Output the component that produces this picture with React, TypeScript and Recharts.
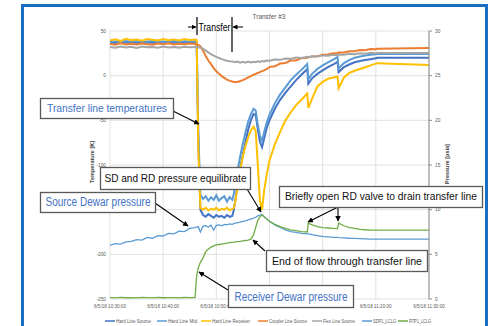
import React from 'react';
import { LineChart, Line, XAxis, YAxis, CartesianGrid } from 'recharts';

// minutes after 10:30:00 on 6/5/18
const times = [0, 1, 2, 3, 4, 5, 6, 7, 8, 9, 10, 11, 12, 13, 14, 15, 16,
  16.3, 16.6,
  17, 17.5, 18, 18.5, 19, 19.5, 20, 20.5, 21, 21.5, 22, 22.5, 23,
  23.3, 23.6,
  24, 24.5, 25, 25.5, 26, 26.5, 27,
  27.4, 27.8, 28.2, 28.6,
  29, 29.5,
  30, 31, 32, 33, 34, 35, 36,
  37.1, 37.3,
  38, 39, 40, 41, 42,
  42.8, 43,
  44, 45, 46, 47, 48, 49, 50,
  50.3, 60];

// Temperatures [K]
const hardLineSource = [37.2, 36.5, 37.8, 36.9, 37.4, 36.6, 37.9, 37.1, 36.8, 37.5, 36.9, 37.6, 37.0, 36.7, 37.3, 36.9, 37.4,
  37.0, -70,
  -150, -156, -158, -155, -157, -159, -156, -158, -157, -159, -156, -158, -157,
  -150, -138,
  -122, -103, -88, -74, -60, -50, -43,
  -44, -60, -74, -80,
  -70, -58,
  -50, -37, -27, -19, -12, -5, 1,
  7.5, -9,
  -3, 2, 6, 9.5, 12.5,
  15.5, 4,
  9.5, 12.5, 15, 16.5, 17.5, 18.5, 19.5,
  20, 20];

const hardLineMid = [37.8, 38.4, 37.5, 38.9, 37.9, 38.6, 37.7, 38.2, 38.8, 37.6, 38.3, 38.0, 38.7, 37.8, 38.4, 38.1, 38.5,
  38, -60,
  -133, -138, -135, -140, -136, -139, -134, -140, -137, -135, -141, -136, -139,
  -132, -120,
  -106, -90, -76, -63, -51, -43, -37,
  -39, -55, -67, -73,
  -63, -52,
  -44, -31, -21, -13, -5, 1, 6.5,
  13, -4,
  2, 7.5, 11.5, 15, 18,
  21, 8,
  14, 17.5, 20, 21.5, 22.5, 23.5, 24,
  24.2, 24.2];

const hardLineReceiver = [39.5, 40.8, 38.9, 41.2, 39.8, 40.5, 39.2, 41.0, 40.1, 39.4, 40.9, 39.7, 40.6, 39.3, 41.1, 40.0, 40.4,
  40, -80,
  -148, -150, -148, -151, -149, -150, -148, -151, -149, -150, -148, -151, -149,
  -148, -140,
  -124, -105, -90, -78, -69, -61, -57,
  -62, -100, -140, -150,
  -128, -110,
  -95, -77, -63, -50, -41, -33, -27,
  -20, -36,
  -26, -12, -7, -3.5, -2,
  -1, -14,
  -2, 3, 5.5, 7.5, 9.5, 11.5, 13.5,
  14, 12];

const couplerLineSource = [35.5, 34.6, 36.2, 35.0, 35.8, 34.9, 36.0, 35.3, 34.7, 35.9, 35.1, 36.3, 34.8, 35.6, 35.2, 35.9, 35.4,
  35.2, 34.5,
  33, 28, 22, 17, 13, 8.5, 5, 2, -0.5, -2.5, -4.5, -5.8, -6.6,
  -7, -7.2,
  -7, -6, -5, -3.5, -2, -0.5, 1,
  2, 3, 4, 5,
  6, 7.5,
  9.6, 10.5, 13.6, 14.2, 16.9, 17.1, 19.6,
  20, 20.6,
  21.4, 21.8, 23.4, 23.6, 25.2,
  25.0, 25.9,
  26.0, 27.4, 27.3, 28.7, 28.5, 29.8, 29.6,
  30.2, 31];

const flexLineSource = [32.0, 31.2, 32.6, 31.5, 32.3, 31.0, 32.5, 31.7, 32.1, 31.3, 32.7, 31.6, 32.2, 31.4, 32.4, 31.8, 32.0,
  32, 31.5,
  31.5, 30, 28, 26, 24, 22.5, 21, 19.8, 18.5, 17.5, 16.8, 16.2, 15.8,
  15.5, 15.3,
  15.8, 14.6, 15.6, 14.5, 15.8, 14.7, 15.6,
  15.0, 16.1, 15.4, 16.4,
  15.9, 17.0,
  16.6, 18.1, 17.7, 19.1, 18.8, 20.3, 19.9,
  21.2, 20.6,
  21.8, 21.4, 22.7, 22.2, 23.4,
  22.9, 23.8,
  23.4, 24.6, 24.1, 25.2, 24.6, 25.6, 25.1,
  25.4, 25.4];

// Pressures [psia]
const sdp1Lclg = [6.0, 6.2, 6.15, 6.4, 6.45, 6.65, 6.6, 6.9, 6.8, 7.1, 7.05, 7.35, 7.3, 7.6, 7.55, 7.9, 8.0,
  8.05, 8.1,
  7.5, 8.15, 8.2, 8.05, 8.25, 7.7, 8.25, 8.3, 8.2, 8.35, 8.3, 8.4, 8.35,
  8.45, 8.5,
  8.55, 8.6, 8.7, 8.75, 8.85, 8.95, 9.05,
  9.15, 9.3, 9.4, 9.45,
  9.2, 8.95,
  8.7, 8.3, 8.0, 7.75, 7.55, 7.45, 7.35,
  7.3, 7.3,
  7.2, 7.1, 7.0, 6.95, 6.9,
  6.9, 6.88,
  6.85, 6.8, 6.78, 6.75, 6.72, 6.7, 6.7,
  6.7, 6.7];

const rtp1Lclg = [0.15, 0.12, 0.18, 0.14, 0.16, 0.12, 0.17, 0.15, 0.13, 0.18, 0.14, 0.16, 0.15, 0.12, 0.17, 0.15, 0.16,
  2.6, 3.5,
  4.1, 4.6, 5.3, 5.6, 5.8, 5.95, 6.05, 6.1, 6.15, 6.2, 6.25, 6.3, 6.35,
  6.37, 6.4,
  6.42, 6.45, 6.5, 6.55, 6.6, 6.7, 7.2,
  8.0, 8.8, 9.2, 9.4,
  9.2, 8.95,
  8.7, 8.35, 8.1, 7.9, 7.75, 7.65, 7.55,
  7.5, 8.5,
  8.3, 8.1, 8.0, 7.95, 7.9,
  7.85, 8.5,
  8.2, 8.0, 7.9, 7.8, 7.75, 7.72, 7.7,
  7.7, 7.7];

const seriesNames = ['Hard Line Source', 'Hard Line Mid', 'Hard Line Receiver', 'Coupler Line Source', 'Flex Line Source', 'SDP1_LCLG', 'RTP1_LCLG'];
const seriesKeys = ['hls', 'hlm', 'hlr', 'cls', 'fls', 'sdp', 'rtp'];
const seriesColors = ['#4472C4', '#5B9BD5', '#FFC000', '#ED7D31', '#A5A5A5', '#5B9BD5', '#70AD47'];
const seriesAxis = ['T', 'T', 'T', 'T', 'T', 'P', 'P'];

const xTicks = [0, 10, 20, 30, 40, 50, 60];
const tempTicks = [-250, -200, -150, -100, -50, 0, 50];
const pressTicks = [0, 5, 10, 15, 20, 25, 30];

const chartTitle = 'Transfer #3';
const leftTitle = 'Temperature [K]';
const rightTitle = 'Pressure [psia]';

const rows = times.map((t, i) => ({
  t,
  hls: hardLineSource[i],
  hlm: hardLineMid[i],
  hlr: hardLineReceiver[i],
  cls: couplerLineSource[i],
  fls: flexLineSource[i],
  sdp: sdp1Lclg[i],
  rtp: rtp1Lclg[i],
}));

function fmtTime(m: number): string {
  const total = 10 * 60 + 30 + m;
  const h = Math.floor(total / 60);
  const mm = Math.round(total % 60);
  return `6/5/18 ${h}:${String(mm).padStart(2, '0')}:00`;
}

const FONT = '"Liberation Sans", Arial, sans-serif';

type Box = { x: number; y: number; w: number; h: number; text: string; color: string; tl: number; fs: number };
const boxes: Box[] = [
  { x: 40, y: 98, w: 133, h: 20, text: 'Transfer line temperatures', color: '#4472C4', tl: 120, fs: 11.5 },
  { x: 100, y: 167, w: 150, h: 22, text: 'SD and RD pressure equilibrate', color: '#111', tl: 142, fs: 11.5 },
  { x: 40, y: 192, w: 115, h: 20, text: 'Source Dewar pressure', color: '#4472C4', tl: 105, fs: 12 },
  { x: 279, y: 186, w: 203, h: 21, text: 'Briefly open RD valve to drain transfer line', color: '#111', tl: 192, fs: 10.4 },
  { x: 266, y: 250, w: 161, h: 21, text: 'End of flow through transfer line', color: '#111', tl: 150, fs: 11.5 },
  { x: 228, y: 285, w: 125, h: 22, text: 'Receiver Dewar pressure', color: '#4472C4', tl: 113, fs: 12.5 },
];

const arrows = [
  [173, 111, 199, 124],
  [247, 189, 261, 212],
  [155, 203, 188, 226],
  [338, 207, 308, 222],
  [338, 207, 338, 221],
  [265, 251, 253, 240],
  [228, 290, 199, 272],
];

const legendLayout = [
  { x: 105, tl: 35 },
  { x: 157, tl: 29 },
  { x: 201, tl: 38 },
  { x: 258, tl: 38 },
  { x: 312, tl: 32 },
  { x: 362, tl: 23 },
  { x: 398, tl: 22 },
];

export default function App() {
  return (
    <div style={{ position: 'absolute', left: 0, top: 0, width: 495, height: 326, background: '#fff', overflow: 'hidden', fontFamily: FONT }}>
      <div style={{ position: 'absolute', left: 21, top: 4, width: 467, height: 360, border: '3px solid #1B6EC2', boxSizing: 'border-box' }} />
      <div style={{ position: 'absolute', left: 0, top: 0 }}>
        <LineChart width={495} height={326} data={rows} margin={{ top: 31, right: 36, bottom: 7, left: 80 }}>
          <CartesianGrid yAxisId="T" stroke="#D9D9D9" strokeWidth={0.8} />
          <XAxis
            type="number"
            dataKey="t"
            domain={[0, 60]}
            ticks={xTicks}
            interval={0}
            tickFormatter={fmtTime}
            axisLine={false}
            tickLine={false}
            tickSize={0}
            tickMargin={6}
            height={20}
            tick={{ fontSize: 4.6, fill: '#595959', fontFamily: FONT }}
          />
          <YAxis
            yAxisId="T"
            domain={[-250, 50]}
            ticks={tempTicks}
            interval={0}
            axisLine={false}
            tickLine={false}
            tickSize={0}
            tickMargin={4}
            width={30}
            tick={{ fontSize: 4.8, fill: '#595959', fontFamily: FONT }}
          />
          <YAxis
            yAxisId="P"
            orientation="right"
            domain={[0, 30]}
            ticks={pressTicks}
            interval={0}
            axisLine={{ stroke: '#8C8C8C', strokeWidth: 1 }}
            tickLine={{ stroke: '#8C8C8C' }}
            tickSize={3}
            tickMargin={3}
            width={30}
            tick={{ fontSize: 4.8, fill: '#595959', fontFamily: FONT }}
          />
          {seriesKeys.map((k, i) => (
            <Line
              key={k}
              yAxisId={seriesAxis[i]}
              type="linear"
              dataKey={k}
              name={seriesNames[i]}
              stroke={seriesColors[i]}
              strokeWidth={seriesAxis[i] === 'T' ? 2 : 1.3}
              dot={false}
              isAnimationActive={false}
            />
          ))}
        </LineChart>
      </div>
      <svg width={495} height={326} style={{ position: 'absolute', left: 0, top: 0, pointerEvents: 'none' }}>
        <defs>
          <marker id="ah" viewBox="0 0 10 10" refX="9" refY="5" markerWidth="5" markerHeight="5" orient="auto">
            <path d="M0,0 L10,5 L0,10 z" fill="#000" />
          </marker>
        </defs>
        <text x={269} y={19} fontSize={7} fill="#595959" textAnchor="middle" textLength={33} lengthAdjust="spacingAndGlyphs">{chartTitle}</text>
        <text transform="translate(94,162) rotate(-90)" fontSize={5.5} fontWeight="bold" fill="#404040" textAnchor="middle">{leftTitle}</text>
        <text transform="translate(449,164) rotate(-90)" fontSize={5.5} fontWeight="bold" fill="#404040" textAnchor="middle">{rightTitle}</text>

        {/* Transfer bracket */}
        <line x1={197} y1={17} x2={197} y2={35} stroke="#000" strokeWidth={1.2} />
        <line x1={232} y1={17} x2={232} y2={52} stroke="#000" strokeWidth={1.2} />
        <line x1={188} y1={27} x2={196} y2={27} stroke="#000" strokeWidth={1} markerEnd="url(#ah)" />
        <line x1={243} y1={27} x2={233} y2={27} stroke="#000" strokeWidth={1} markerEnd="url(#ah)" />
        <text x={214.5} y={30.5} fontSize={10.5} fill="#000" textAnchor="middle" textLength={32} lengthAdjust="spacingAndGlyphs">Transfer</text>

        {arrows.map((a, i) => (
          <line key={i} x1={a[0]} y1={a[1]} x2={a[2]} y2={a[3]} stroke="#000" strokeWidth={1.1} markerEnd="url(#ah)" />
        ))}

        {boxes.map((b, i) => (
          <g key={i}>
            <rect x={b.x + 0.5} y={b.y + 0.5} width={b.w} height={b.h} fill="#fff" stroke="#595959" strokeWidth={1.3} />
            <text
              x={b.x + b.w / 2 + 0.5}
              y={b.y + b.h / 2 + b.fs * 0.36}
              fontSize={b.fs}
              fill={b.color}
              textAnchor="middle"
              textLength={b.tl}
              lengthAdjust="spacingAndGlyphs"
            >
              {b.text}
            </text>
          </g>
        ))}

        {legendLayout.map((l, i) => (
          <g key={i}>
            <line x1={l.x} y1={321} x2={l.x + 10} y2={321} stroke={seriesColors[i]} strokeWidth={1.5} />
            <text x={l.x + 11} y={322.8} fontSize={4.8} fill="#595959" textLength={l.tl} lengthAdjust="spacingAndGlyphs">{seriesNames[i]}</text>
          </g>
        ))}
      </svg>
    </div>
  );
}
